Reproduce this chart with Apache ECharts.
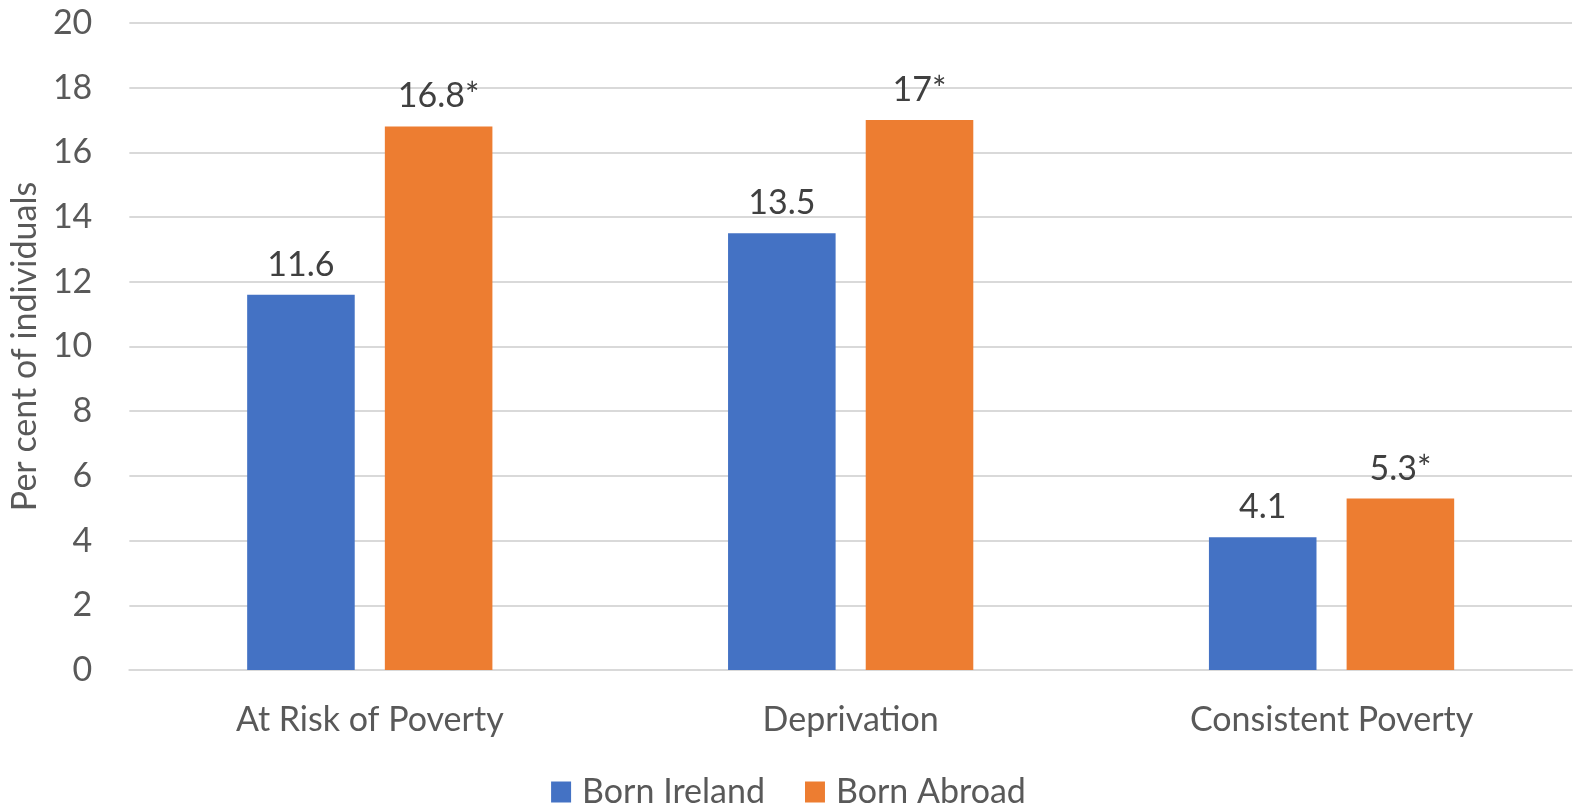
<!DOCTYPE html>
<html>
<head>
<meta charset="utf-8">
<script src="https://cdn.jsdelivr.net/npm/echarts@6/dist/echarts.min.js"></script>
<style>
  html, body { margin: 0; padding: 0; background: #fff; }
  #chart { width: 1577px; height: 804px; }
</style>
</head>
<body>
<div id="chart"></div>
<script>
// Poverty indicators by country of birth
const categories = ['At Risk of Poverty', 'Deprivation', 'Consistent Poverty'];
const bornIreland = [11.6, 13.5, 4.1];
const bornAbroad = [16.8, 17, 5.3];
// statistically significant differences carry an asterisk
const abroadLabels = ['16.8*', '17*', '5.3*'];
const irelandLabels = ['11.6', '13.5', '4.1'];

const FONT = 'Lato';
const SIZE = 34;
const chart = echarts.init(document.getElementById('chart'), null, { renderer: 'canvas' });

chart.setOption({
  animation: false,
  textStyle: { fontFamily: FONT },
  grid: { left: 126, right: 5, top: 23, bottom: 134, containLabel: false },
  legend: {
    top: 770,
    left: 'center',
    itemWidth: 20,
    itemHeight: 21,
    itemGap: 40,
    icon: 'rect',
    textStyle: { fontFamily: FONT, fontSize: SIZE, color: '#595959', padding: [0, 0, 0, 6] },
    data: ['Born Ireland', 'Born Abroad']
  },
  xAxis: {
    type: 'category',
    data: categories,
    axisLine: { show: true, lineStyle: { color: '#d9d9d9', width: 2 } },
    axisTick: { show: false },
    axisLabel: { fontFamily: FONT, fontSize: SIZE, color: '#595959', margin: 33 }
  },
  yAxis: {
    type: 'value',
    min: 0,
    max: 20,
    interval: 2,
    name: 'Per cent of individuals',
    nameLocation: 'middle',
    nameGap: 86,
    nameTextStyle: { fontFamily: FONT, fontSize: SIZE, color: '#595959' },
    axisLine: { show: false },
    axisTick: { show: false },
    splitLine: { lineStyle: { color: '#d9d9d9', width: 2 } },
    axisLabel: { fontFamily: FONT, fontSize: SIZE, color: '#595959', margin: 37 }
  },
  series: [
    {
      name: 'Born Ireland',
      type: 'bar',
      data: bornIreland,
      barGap: '28%',
      barCategoryGap: '49%',
      itemStyle: { color: '#4472c4' },
      label: {
        show: true,
        position: 'top',
        distance: 13,
        fontFamily: FONT,
        fontSize: SIZE,
        color: '#404040',
        formatter: p => irelandLabels[p.dataIndex]
      }
    },
    {
      name: 'Born Abroad',
      type: 'bar',
      data: bornAbroad,
      itemStyle: { color: '#ed7d31' },
      label: {
        show: true,
        position: 'top',
        distance: 13,
        fontFamily: FONT,
        fontSize: SIZE,
        color: '#404040',
        formatter: p => abroadLabels[p.dataIndex]
      }
    }
  ]
});
</script>
</body>
</html>
